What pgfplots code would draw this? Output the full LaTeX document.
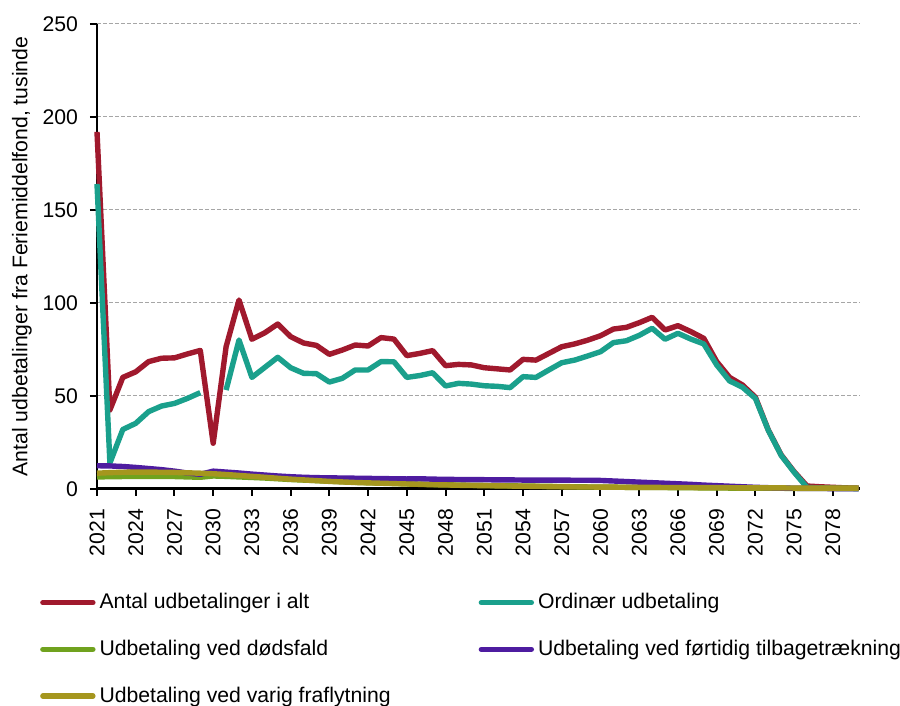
\documentclass[border=0pt]{standalone}
\usepackage{fontspec}
\setmainfont{Liberation Sans}
\usepackage{pgfplots}
\usepackage{pgfplotstable}
\pgfplotsset{compat=1.18}

\definecolor{cTotal}{RGB}{160,25,45}
\definecolor{cOrd}{RGB}{26,160,140}
\definecolor{cDead}{RGB}{112,162,30}
\definecolor{cEarly}{RGB}{78,28,160}
\definecolor{cEmig}{RGB}{165,150,30}

% year, total, ordinary, death, early withdrawal, emigration (thousands)
\pgfplotstableread{
year total ord dead early emig
2021 192   164   6.5 12.5 8.5
2022 42.5  14    6.6 12.4 8.8
2023 60    32    6.7 12.1 9.0
2024 63    35.3  6.8 11.6 9.1
2025 68.5  41.6  6.8 11.0 9.1
2026 70.3  44.6  6.8 10.4 9.0
2027 70.5  46    6.7 9.6  8.9
2028 72.6  48.7  6.5 8.6  8.7
2029 74.5  51.8  6.3 7.9  8.5
2030 24.6  nan   7.0 9.6  8.2
2031 76.5  53.2  6.8 9.1  7.8
2032 101.6 80.1  6.5 8.6  7.3
2033 80.5  60    6.2 8.0  6.8
2034 84    65.4  5.9 7.5  6.3
2035 88.7  70.8  5.5 7.0  5.8
2036 81.9  65.2  5.1 6.6  5.3
2037 78.5  62.2  4.8 6.3  4.9
2038 77.2  62    4.5 6.1  4.5
2039 72.4  57.5  4.2 6.0  4.1
2040 74.7  59.5  3.9 5.9  3.8
2041 77.4  64    3.6 5.8  3.5
2042 76.9  64    3.4 5.7  3.3
2043 81.4  68.5  3.2 5.6  3.1
2044 80.6  68.4  3.0 5.5  2.9
2045 71.7  60    2.8 5.4  2.7
2046 72.9  61    2.6 5.5  2.5
2047 74.4  62.5  2.4 5.3  2.3
2048 66.3  55.4  2.3 5.2  2.2
2049 67    56.8  2.1 5.1  2.0
2050 66.7  56.4  2.0 5.0  1.9
2051 65.2  55.5  1.9 5.0  1.8
2052 64.6  55.2  1.8 4.9  1.7
2053 64    54.5  1.7 4.9  1.6
2054 69.7  60.4  1.6 4.8  1.5
2055 69.3  60    1.5 4.8  1.4
2056 72.9  64    1.4 4.8  1.3
2057 76.5  67.9  1.3 4.8  1.2
2058 78    69.3  1.2 4.7  1.1
2059 80    71.5  1.1 4.7  1.1
2060 82.4  73.8  1.0 4.6  1.0
2061 86    78.7  1.0 4.3  1.0
2062 86.9  79.7  0.9 4.0  0.9
2063 89.4  82.6  0.9 3.7  0.9
2064 92.3  86.4  0.8 3.4  0.9
2065 85.5  80.5  0.8 3.1  0.8
2066 87.8  83.7  0.7 2.8  0.8
2067 84.6  80.6  0.7 2.5  0.8
2068 81    78    0.6 2.1  0.7
2069 68.5  66.7  0.6 1.8  0.7
2070 60    58.1  0.5 1.5  0.7
2071 55.9  54.7  0.5 1.2  0.6
2072 49.3  48.7  0.5 0.9  0.6
2073 31.7  31.5  0.4 0.7  0.6
2074 18.3  18    0.4 0.5  0.6
2075 9.3   9     0.3 0.4  0.5
2076 1.6   0.8   0.3 0.3  0.5
2077 1.2   0.6   0.3 0.3  0.5
2078 0.9   0.4   0.3 0.2  0.5
2079 0.6   0.3   0.3 0.2  0.5
2080 0.4   0.2   0.3 0.2  0.5
}\data

\begin{document}
\begin{tikzpicture}
\path[use as bounding box] (-48.5pt,-108.5pt) rectangle (401.5pt,244.5pt);
\begin{axis}[
  at={(0pt,0pt)}, anchor=south west,
  scale only axis, width=381.5pt, height=232.5pt,
  xmin=2021, xmax=2080.1, ymin=0, ymax=250,
  axis x line=bottom, axis y line=left,
  x axis line style={-, line width=1.5pt},
  y axis line style={-, line width=1.2pt},
  xtick={2021,2024,...,2078}, ytick={0,50,...,250},
  tick align=outside, major tick length=3.5pt,
  tick style={black, line width=1pt},
  xticklabel style={yshift=-3pt, rotate=90, anchor=east, /pgf/number format/1000 sep={}},
  yticklabel style={xshift=-2.5pt},
  /pgf/number format/assume math mode=true,
  ticklabel style={font=\fontsize{10.6}{12}\selectfont},
  ymajorgrids, grid style={gray!70, dash pattern=on 2pt off 1pt, line width=0.5pt},
  ylabel={Antal udbetalinger fra Feriemiddelfond, tusinde},
  every axis y label/.style={at={(rel axis cs:-0.0983,0.5)}, rotate=90, anchor=center,
    font=\fontsize{10.6}{12}\selectfont},
  unbounded coords=jump,
  every axis plot/.append style={line width=2.7pt, line join=round},
  clip=false,
  legend columns=2,
  legend cell align=left,
  legend image code/.code={\draw[#1, line cap=round] (0pt,0pt) -- (25pt,0pt);},
  legend style={at={(rel axis cs:-0.075,-0.215)}, anchor=north west, draw=none,
    font=\fontsize{10.6}{12}\selectfont, inner sep=0pt, row sep=10.2pt,
    /tikz/every even column/.append style={column sep=42pt}},
]
\addplot[cTotal] table[x=year, y=total] {\data};
\addlegendentry{Antal udbetalinger i alt}
\addplot[cOrd] table[x=year, y=ord] {\data};
\addlegendentry{Ordinær udbetaling}
\addplot[cDead] table[x=year, y=dead] {\data};
\addlegendentry{Udbetaling ved dødsfald}
\addplot[cEarly] table[x=year, y=early] {\data};
\addlegendentry{Udbetaling ved førtidig tilbagetrækning}
\addplot[cEmig] table[x=year, y=emig] {\data};
\addlegendentry{Udbetaling ved varig fraflytning}
\end{axis}
\end{tikzpicture}
\end{document}
